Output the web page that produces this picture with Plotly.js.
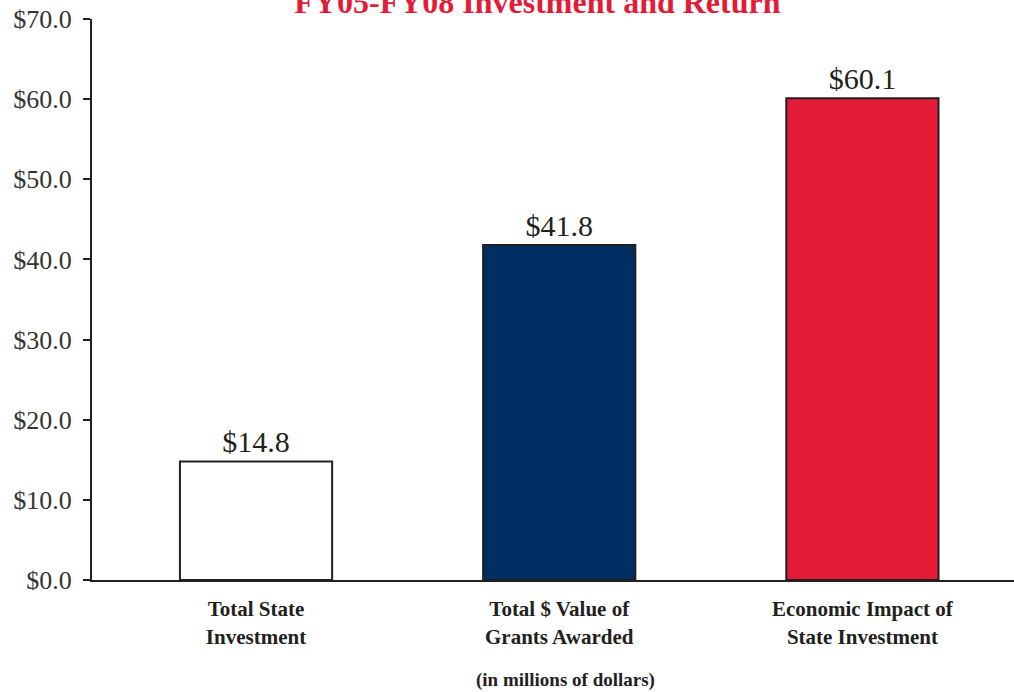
<!DOCTYPE html>
<html>
<head>
<meta charset="utf-8">
<script src="https://cdn.plot.ly/plotly-3.0.1.min.js"></script>
<style>html,body{margin:0;padding:0;background:#fff}#chart{width:1014px;height:692px}</style>
</head>
<body>
<div id="chart"></div>
<script>
const categories = ["Total State<br>Investment", "Total $ Value of<br>Grants Awarded", "Economic Impact of<br>State Investment"];
const values = [14.8, 41.8, 60.1];
const valueLabels = ["$14.8", "$41.8", "$60.1"];
const barColors = ["#FFFFFF", "#002D62", "#E31B37"];
const yTickVals = [0, 10, 20, 30, 40, 50, 60, 70];
const yTickText = ["$0.0", "$10.0", "$20.0", "$30.0", "$40.0", "$50.0", "$60.0", "$70.0"];
const titleText = "FY05-FY08 Investment and Return";
const noteText = "(in millions of dollars)";

const ink = "#231F20";
const serif = "'Liberation Serif', 'Times New Roman', serif";

const trace = {
  type: "bar",
  x: categories,
  y: values,
  text: valueLabels,
  textposition: "outside",
  cliponaxis: false,
  textfont: {family: serif, size: 30, color: ink},
  marker: {color: barColors, line: {color: ink, width: 2}},
  hoverinfo: "none"
};

const layout = {
  width: 1014, height: 692,
  margin: {l: 92, r: 0, t: 19, b: 112},
  paper_bgcolor: "#fff", plot_bgcolor: "#fff",
  showlegend: false,
  bargap: 0.498,
  title: {
    text: "<b>" + titleText + "</b>",
    font: {family: serif, size: 32, color: "#E31B37"},
    x: 0.53, xanchor: "center", xref: "container",
    y: 0.997, yanchor: "middle", yref: "container"
  },
  xaxis: {
    type: "category",
    range: [-0.541, 2.5],
    showline: true, linecolor: ink, linewidth: 2,
    ticks: "", showgrid: false, zeroline: false,
    tickfont: {family: serif, size: 21, color: ink},
    ticklabelstandoff: 9
  },
  yaxis: {
    range: [0, 70],
    tickvals: yTickVals, ticktext: yTickText,
    showline: true, linecolor: ink, linewidth: 2,
    ticks: "outside", ticklen: 7, tickwidth: 2, tickcolor: ink,
    showgrid: false, zeroline: false,
    tickfont: {family: serif, size: 26, color: "#333"},
    ticklabelstandoff: 6
  },
  annotations: [{
    text: "<b>" + noteText + "</b>",
    xref: "paper", yref: "paper",
    x: (565 - 92) / 922, y: -100 / 561,
    xanchor: "center", yanchor: "middle",
    showarrow: false,
    font: {family: serif, size: 19, color: ink}
  }]
};

layout.xaxis.tickvals = categories;
layout.xaxis.ticktext = categories.map(c => "<b>" + c + "</b>");

Plotly.newPlot("chart", [trace], layout, {displayModeBar: false, staticPlot: true});
</script>
</body>
</html>
